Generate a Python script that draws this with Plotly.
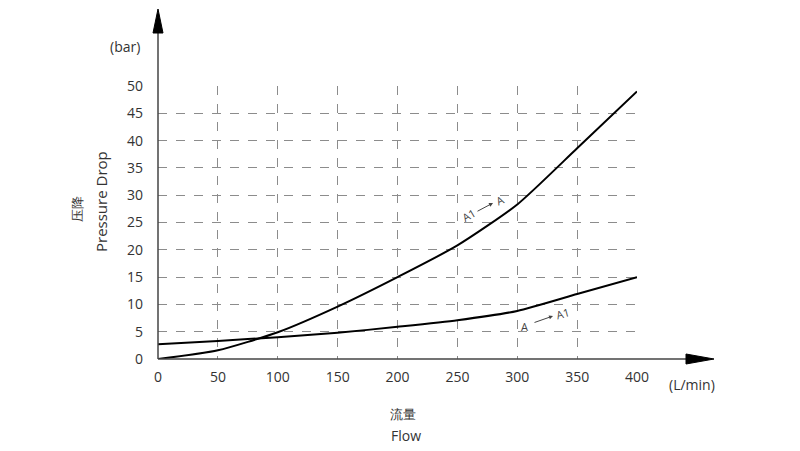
import plotly.graph_objects as go

# Data
flow = [0, 50, 100, 150, 200, 250, 300, 350, 400]
a1_to_a = [0, 1.6, 4.9, 9.6, 15.0, 20.8, 28.3, 38.6, 49.0]
a_to_a1 = [2.7, 3.3, 4.0, 4.8, 5.9, 7.1, 8.8, 11.9, 15.0]
x_ticks = [0, 50, 100, 150, 200, 250, 300, 350, 400]
y_ticks = [0, 5, 10, 15, 20, 25, 30, 35, 40, 45, 50]

FONT = "Open Sans"
TXT = "#333333"

fig = go.Figure()
fig.add_trace(go.Scatter(x=flow, y=a1_to_a, mode="lines", line=dict(color="black", width=2, shape="spline", smoothing=0.6), showlegend=False, hoverinfo="skip"))
fig.add_trace(go.Scatter(x=flow, y=a_to_a1, mode="lines", line=dict(color="black", width=2, shape="spline", smoothing=0.6), showlegend=False, hoverinfo="skip"))

W, H = 800, 451
OFF = 7  # page offset compensation
L, R, T, B = 157, 636, 85, 358
pw, ph = R - L, B - T

def px(x):
    return (x - L) / pw

def py(y):
    return (B - y) / ph

shapes = []
shapes.append(dict(type="line", xref="paper", yref="paper", x0=0, y0=0, x1=0, y1=py(28), line=dict(color="#444", width=1.5)))
shapes.append(dict(type="path", xref="paper", yref="paper",
                   path=f"M {px(152)},{py(32)} L {px(157)},{py(8)} L {px(162)},{py(32)} Z",
                   fillcolor="black", line=dict(color="black", width=1)))
shapes.append(dict(type="line", xref="paper", yref="paper", x0=0, y0=0, x1=px(688), y1=0, line=dict(color="#444", width=1.5)))
shapes.append(dict(type="path", xref="paper", yref="paper",
                   path=f"M {px(685)},{py(353)} L {px(713)},{py(358)} L {px(685)},{py(363)} Z",
                   fillcolor="black", line=dict(color="black", width=1)))

annotations = []
def ann(text, x, y, size=14, angle=0, color=TXT):
    annotations.append(dict(text=text, xref="paper", yref="paper", x=px(x), y=py(y), showarrow=False,
                            textangle=angle, font=dict(family=FONT, size=size, color=color),
                            xanchor="center", yanchor="middle"))

ann("(bar)", 124, 45)
ann("(L/min)", 691, 383)
ann("流量", 402, 413, size=13)
ann("Flow", 405, 435)
ann("压降", 76, 208, size=13, angle=-90)
ann("Pressure Drop", 100, 201, size=15, angle=-90)

def dx(p):
    return (p - L) / pw * 400

def dy(p):
    return (B - p) / ph * 50

LBL = dict(family=FONT, size=11, color="#444")
annotations.append(dict(text="A1", x=dx(467), y=dy(214), showarrow=False, textangle=-30, font=LBL))
annotations.append(dict(text="A", x=dx(498), y=dy(199), showarrow=False, textangle=-25, font=LBL))
annotations.append(dict(text="", x=dx(492), y=dy(202), ax=-17, ay=9, showarrow=True,
                        arrowhead=2, arrowsize=0.8, arrowwidth=1, arrowcolor="#444"))
annotations.append(dict(text="A", x=dx(523), y=dy(325), showarrow=False, font=LBL))
annotations.append(dict(text="A1", x=dx(561), y=dy(312), showarrow=False, textangle=-15, font=LBL))
annotations.append(dict(text="", x=dx(552), y=dy(315), ax=-20, ay=7, showarrow=True,
                        arrowhead=2, arrowsize=0.8, arrowwidth=1, arrowcolor="#444"))

fig.update_layout(
    width=W, height=H,
    margin=dict(l=L - OFF, r=W - R + OFF, t=T - OFF, b=H - B + OFF),
    paper_bgcolor="white", plot_bgcolor="white",
    shapes=shapes, annotations=annotations,
    xaxis=dict(range=[0, 400], tickvals=x_ticks, ticktext=[str(v) for v in x_ticks],
               showgrid=True, gridcolor="#8c8c8c", griddash="dash", gridwidth=1,
               zeroline=False, showline=False, ticks="", ticklen=0, ticklabelstandoff=8,
               tickfont=dict(family=FONT, size=14, color=TXT), fixedrange=True),
    yaxis=dict(range=[0, 50], tickvals=y_ticks, ticktext=[str(v) for v in y_ticks],
               showgrid=True, gridcolor="#8c8c8c", griddash="dash", gridwidth=1,
               zeroline=False, showline=False, ticks="", ticklen=0, ticklabelstandoff=14,
               tickfont=dict(family=FONT, size=14, color=TXT), fixedrange=True),
    font=dict(family=FONT),
)

fig.write_html("out.html")
